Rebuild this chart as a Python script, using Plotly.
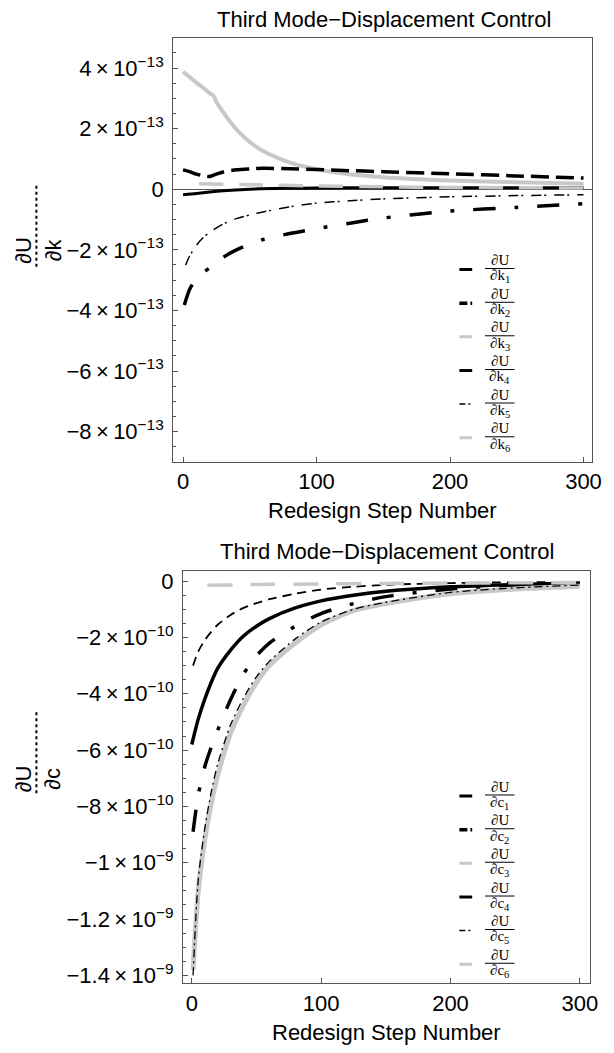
import plotly.graph_objects as go

W, H = 614, 1053

# ---------------- data: top panel, dU/dk (units of 1e-13) ----------------
K_SCALE = 1e-13
k1_steps = [0, 10, 20, 30, 50, 75, 100, 150, 200, 250, 300]
k1_vals = [-0.18, -0.14, -0.09, -0.05, 0.0, 0.03, 0.04, 0.05, 0.05, 0.05, 0.05]
k2_steps = [1, 5, 10, 15, 20, 30, 40, 50, 60, 80, 100, 125, 150, 200, 250, 300]
k2_vals = [-3.82, -3.3, -2.95, -2.75, -2.6, -2.25, -2.0, -1.82, -1.66, -1.46, -1.3, -1.12, -0.95, -0.72, -0.6, -0.48]
k3_steps = [0, 5, 10, 15, 20, 23, 25, 30, 35, 40, 50, 60, 70, 80, 90, 100, 120, 150, 200, 250, 300]
k3_vals = [3.88, 3.7, 3.52, 3.35, 3.17, 3.08, 2.88, 2.55, 2.24, 1.98, 1.56, 1.26, 1.05, 0.88, 0.76, 0.66, 0.52, 0.4, 0.29, 0.23, 0.18]
k4_steps = [0, 5, 10, 15, 20, 25, 30, 40, 50, 60, 80, 100, 120, 150, 200, 250, 300]
k4_vals = [0.64, 0.58, 0.5, 0.45, 0.42, 0.5, 0.57, 0.64, 0.67, 0.69, 0.68, 0.65, 0.62, 0.58, 0.51, 0.44, 0.37]
k5_steps = [2, 5, 10, 15, 20, 30, 40, 50, 60, 80, 100, 125, 150, 200, 250, 300]
k5_vals = [-2.5, -2.2, -1.85, -1.6, -1.42, -1.15, -0.97, -0.85, -0.75, -0.58, -0.46, -0.38, -0.32, -0.25, -0.21, -0.18]
k6_steps = [12, 50, 100, 150, 200, 250, 300]
k6_vals = [0.18, 0.15, 0.11, 0.08, 0.06, 0.05, 0.04]

# ---------------- data: bottom panel, dU/dc (units of 1e-10) ----------------
C_SCALE = 1e-10
c1_steps = [0, 5, 10, 15, 20, 30, 40, 50, 60, 80, 100, 125, 150, 200, 250, 300]
c1_vals = [-5.8, -4.9, -4.2, -3.6, -3.1, -2.45, -1.95, -1.6, -1.33, -0.95, -0.7, -0.5, -0.36, -0.2, -0.12, -0.07]
c2_steps = [1, 5, 10, 15, 20, 30, 40, 50, 60, 80, 100, 125, 150, 200, 250, 300]
c2_vals = [-8.9, -7.6, -6.6, -5.9, -5.3, -4.2, -3.3, -2.65, -2.2, -1.6, -1.15, -0.8, -0.55, -0.28, -0.15, -0.08]
c3_steps = [1, 5, 10, 15, 20, 30, 40, 50, 60, 80, 100, 125, 150, 200, 250, 300]
c3_vals = [-13.8, -11.0, -9.2, -7.9, -6.9, -5.4, -4.4, -3.6, -3.0, -2.2, -1.55, -1.05, -0.8, -0.45, -0.28, -0.18]
c4_steps = [1, 5, 10, 15, 20, 30, 40, 50, 60, 80, 100, 125, 150, 200, 250, 300]
c4_vals = [-3.0, -2.5, -2.1, -1.8, -1.55, -1.2, -0.95, -0.78, -0.64, -0.45, -0.3, -0.2, -0.13, -0.07, -0.04, -0.03]
c5_steps = [1, 5, 10, 15, 20, 30, 40, 50, 60, 80, 100, 125, 150, 200, 250, 300]
c5_vals = [-14.0, -10.6, -8.8, -7.5, -6.5, -5.1, -4.15, -3.4, -2.85, -2.05, -1.45, -1.0, -0.75, -0.4, -0.24, -0.14]
c6_steps = [12, 50, 100, 150, 200, 250, 300]
c6_vals = [-0.15, -0.12, -0.1, -0.08, -0.07, -0.06, -0.05]

# tick labels
k_tickvals = [-8, -6, -4, -2, 0, 2, 4]
k_ticktext = ["−8\u2009×\u200910<sup>−13</sup>", "−6\u2009×\u200910<sup>−13</sup>",
              "−4\u2009×\u200910<sup>−13</sup>", "−2\u2009×\u200910<sup>−13</sup>", "0",
              "2\u2009×\u200910<sup>−13</sup>", "4\u2009×\u200910<sup>−13</sup>"]
c_tickvals = [-14, -12, -10, -8, -6, -4, -2, 0]
c_ticktext = ["−1.4\u2009×\u200910<sup>−9</sup>", "−1.2\u2009×\u200910<sup>−9</sup>",
              "−1\u2009×\u200910<sup>−9</sup>", "−8\u2009×\u200910<sup>−10</sup>",
              "−6\u2009×\u200910<sup>−10</sup>", "−4\u2009×\u200910<sup>−10</sup>",
              "−2\u2009×\u200910<sup>−10</sup>", "0"]
x_tickvals = [0, 100, 200, 300]

title_text = "Third Mode−Displacement Control"
x_title = "Redesign Step Number"

BLACK = "#000000"
GRAY = "#c8c8c8"

# styles (color, width, dash)
top_styles = [
    (BLACK, 3, "solid"),
    (BLACK, 3.5, "22px,19px,4px,19px"),
    (GRAY, 4, "solid"),
    (BLACK, 3.5, "18px,7px"),
    (BLACK, 1.5, "10px,3px,2px,8px"),
    (GRAY, 3.5, "24px,16px"),
]
bot_styles = [
    (BLACK, 3.5, "solid"),
    (BLACK, 3.5, "22px,19px,4px,19px"),
    (GRAY, 5, "solid"),
    (BLACK, 1.8, "9px,6px"),
    (BLACK, 1.3, "8px,4px,2px,4px"),
    (GRAY, 3.5, "25px,18px"),
]

top_series = [(k1_steps, k1_vals), (k2_steps, k2_vals), (k3_steps, k3_vals),
              (k4_steps, k4_vals), (k5_steps, k5_vals), (k6_steps, k6_vals)]
bot_series = [(c1_steps, c1_vals), (c2_steps, c2_vals), (c3_steps, c3_vals),
              (c4_steps, c4_vals), (c5_steps, c5_vals), (c6_steps, c6_vals)]


def px(x):
    return x / W


def py(y):
    return 1 - y / H


fig = go.Figure()

for (xs, ys), (col, wd, dash) in zip(top_series, top_styles):
    fig.add_trace(go.Scatter(x=xs, y=[v * K_SCALE for v in ys], mode="lines",
                             line=dict(color=col, width=wd, dash=dash, shape="spline", smoothing=0.7),
                             xaxis="x", yaxis="y", showlegend=False, hoverinfo="skip"))
for (xs, ys), (col, wd, dash) in zip(bot_series, bot_styles):
    fig.add_trace(go.Scatter(x=xs, y=[v * C_SCALE for v in ys], mode="lines",
                             line=dict(color=col, width=wd, dash=dash, shape="spline", smoothing=0.7),
                             xaxis="x2", yaxis="y2", showlegend=False, hoverinfo="skip"))

FONT = "Liberation Sans, Arial, sans-serif"
SERIF = "Liberation Serif, Times New Roman, serif"
FRAME = "#555555"

common_x = dict(showgrid=False, zeroline=False, showline=True, mirror=True, linecolor=FRAME,
                linewidth=1, ticks="inside", ticklen=5, tickcolor=FRAME, tickmode="array",
                tickvals=x_tickvals, ticktext=[str(v) for v in x_tickvals],
                tickfont=dict(family=FONT, size=22, color="black"))
common_y = dict(showgrid=False, showline=True, mirror=True, linecolor=FRAME, linewidth=1,
                ticks="inside", ticklen=5, tickcolor=FRAME, tickmode="array",
                tickfont=dict(family=FONT, size=22, color="black"), ticklabelstandoff=4)

fig.update_layout(
    width=W, height=H, autosize=False,
    margin=dict(l=0, r=0, t=0, b=0),
    paper_bgcolor="white", plot_bgcolor="white",
    xaxis=dict(common_x, domain=[px(176), px(602)], range=[-7.4, 306.5], anchor="y"),
    yaxis=dict(common_y, domain=[py(463), py(36)], range=[-9e-13, 5e-13], anchor="x",
               tickvals=[v * K_SCALE for v in k_tickvals], ticktext=k_ticktext,
               zeroline=True, zerolinecolor=FRAME, zerolinewidth=1,
               minor=dict(ticks="inside", ticklen=3, tickcolor=FRAME, dtick=0.5e-13, tick0=0)),
    xaxis2=dict(common_x, domain=[px(186), px(600)], range=[-6.8, 308], anchor="y2"),
    yaxis2=dict(common_y, domain=[py(988), py(573)], range=[-1.4286e-9, 0.353e-10], anchor="x2",
                tickvals=[v * C_SCALE for v in c_tickvals], ticktext=c_ticktext,
                zeroline=False,
                minor=dict(ticks="inside", ticklen=3, tickcolor=FRAME, dtick=0.5e-10, tick0=0)),
)

ann = []
shapes = []


def text(x, y, s, size=22, family=FONT, angle=0):
    ann.append(dict(x=px(x), y=py(y), xref="paper", yref="paper", text=s, showarrow=False,
                    xanchor="center", yanchor="middle", textangle=angle,
                    font=dict(family=family, size=size, color="black")))


def seg(x0, y0, x1, y1, color="black", width=1, dash="solid"):
    shapes.append(dict(type="line", xref="paper", yref="paper", x0=px(x0), y0=py(y0),
                       x1=px(x1), y1=py(y1), line=dict(color=color, width=width, dash=dash)))


# titles
text(390, 18, title_text)
text(393, 553, title_text)
text(389, 512, x_title)
text(393, 1037, x_title)

# rotated y labels with dotted fraction bar
text(24, 250, "∂U", angle=-90)
text(54, 250, "∂k", angle=-90)
seg(37, 185, 37, 267, width=2, dash="dot")
text(24, 782, "∂U", angle=-90)
text(54, 782, "∂c", angle=-90)
seg(37, 715, 37, 797, width=2, dash="dot")

# legends
legend_bars_top = [268.3, 302.3, 336.0, 370.0, 403.7, 437.7]
legend_bars_bot = [798.3, 832.3, 866.0, 900.0, 933.7, 967.7]
sample_dash = ["solid", "8px,3px,3px,3px", "solid", "solid", "6px,3px,2px,3px", "solid"]
sample_width = [3, 3.5, 3, 3, 1.5, 3]
sample_color = [BLACK, BLACK, GRAY, BLACK, BLACK, GRAY]
for bars, var in ((legend_bars_top, "k"), (legend_bars_bot, "c")):
    for i, yb in enumerate(bars):
        seg(467, yb + 1, 480, yb + 1, color=sample_color[i], width=sample_width[i], dash=sample_dash[i])
        seg(493, yb, 523, yb, width=1)
        text(508, yb - 8.5, "∂U", size=15, family=SERIF)
        text(508, yb + 8, "∂" + var + "<sub>" + str(i + 1) + "</sub>", size=15, family=SERIF)

fig.update_layout(annotations=ann, shapes=shapes)
fig.write_html("out.html", config={"displayModeBar": False},
               post_script="document.body.style.margin='0px';")
